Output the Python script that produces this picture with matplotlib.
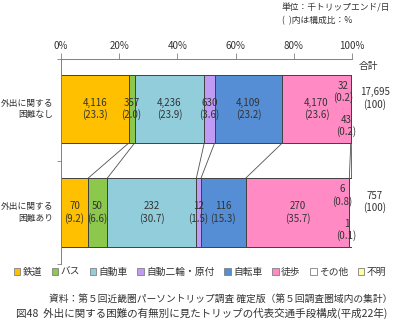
import matplotlib
matplotlib.use("Agg")
import matplotlib.pyplot as plt
from matplotlib.patches import Patch
import matplotlib.transforms as mtransforms
import numpy as np

plt.rcParams['font.family'] = ['Noto Sans CJK JP', 'DejaVu Sans']

categories = ["外出に関する\n困難なし", "外出に関する\n困難あり"]
modes = ["鉄道", "バス", "自動車", "自動二輪・原付", "自転車", "徒歩", "その他", "不明"]
vals_none = [4116, 357, 4236, 630, 4109, 4170, 32, 43]
pct_none = [23.3, 2.0, 23.9, 3.6, 23.2, 23.6, 0.2, 0.2]
vals_some = [70, 50, 232, 12, 116, 270, 6, 1]
pct_some = [9.2, 6.6, 30.7, 1.5, 15.3, 35.7, 0.8, 0.1]
totals = ["17,695", "757"]
xticks = [0, 20, 40, 60, 80, 100]
xticklabels = ["0%", "20%", "40%", "60%", "80%", "100%"]

colors = ["#FFC000", "#8CC84B", "#92CDDC", "#C09BF5", "#558ED5", "#FF8AC4", "#FFFFFF", "#FFFFA0"]
txtc = "#333333"

fig = plt.figure(figsize=(4.0, 3.25), dpi=100)
ax = fig.add_axes([0.1525, 0.1877, 0.7275, 0.6308])

bar_h = 0.66
rows = [(vals_none, pct_none), (vals_some, pct_some)]
cums = []
for r, (vals, pcts) in enumerate(rows):
    v = np.array(vals, dtype=float)
    share = v / v.sum() * 100
    left = np.concatenate([[0], np.cumsum(share)[:-1]])
    cums.append(np.cumsum(share))
    ax.barh(r, share, left=left, height=bar_h, color=colors,
            edgecolor="#404040", linewidth=0.7, zorder=2)
    for i in range(len(vals)):
        cx = left[i] + share[i] / 2
        dy = 0
        dx = 0
        if i == 6:
            dy = -0.165
            dx = -2.8
        elif i == 7:
            dy = 0.165
            dx = -1.8
        ax.text(cx + dx, r + dy, f"{vals[i]:,}\n({pcts[i]:.1f})", ha="center", va="center",
                fontsize=7, color=txtc, linespacing=1.15, zorder=4)

# connector lines
for i in range(len(modes)):
    ax.plot([cums[0][i], cums[1][i]], [0 + bar_h / 2, 1 - bar_h / 2],
            color="#505050", lw=0.6, zorder=1)

ax.set_xlim(0, 100)
ax.set_ylim(1.495, -0.48)
ax.xaxis.tick_top()
ax.set_xticks(xticks)
ax.set_xticklabels(xticklabels, fontsize=7, color=txtc)
ax.tick_params(axis="x", direction="out", length=4, width=0.6, color="#808080", pad=2)
ax.set_yticks([-0.48, 0.5, 1.495])
ax.set_yticklabels([])
ax.tick_params(axis="y", direction="out", length=3, width=0.6, color="#808080")
for s in ["right", "bottom"]:
    ax.spines[s].set_visible(False)
for s in ["top", "left"]:
    ax.spines[s].set_color("#808080")
    ax.spines[s].set_linewidth(0.7)

trans = mtransforms.blended_transform_factory(fig.transFigure, ax.transData)
for r, cat in enumerate(categories):
    ax.text(53 / 400, r, cat, transform=trans, ha="right", va="center",
            fontsize=6.3, color=txtc, linespacing=1.35)
    ax.text(375 / 400, r - 0.1, f"{totals[r]}\n(100)", transform=trans, ha="center",
            va="center", fontsize=7, color=txtc, linespacing=1.15)

fig.text(368 / 400, 1 - 66 / 325, "合計", ha="center", va="center", fontsize=7, color=txtc)
fig.text(282 / 400, 1 - 8 / 325, "単位：千トリップエンド/日", ha="left", va="center",
         fontsize=6.3, color=txtc)
fig.text(282 / 400, 1 - 21 / 325, "(  )内は構成比：%", ha="left", va="center",
         fontsize=6.3, color=txtc)

handles = [Patch(facecolor=c, edgecolor="#808080", linewidth=0.6) for c in colors]
leg = fig.legend(handles, modes, loc="center", bbox_to_anchor=(0.5, 1 - 272 / 325),
                 ncol=8, frameon=False, fontsize=7, handlelength=0.7, handleheight=0.7,
                 handletextpad=0.25, columnspacing=0.95, borderaxespad=0)
for t in leg.get_texts():
    t.set_color(txtc)

fig.text(392 / 400, 1 - 299 / 325,
         "資料：第５回近畿圏パーソントリップ調査 確定版（第５回調査圏域内の集計）",
         ha="right", va="center", fontsize=7, color=txtc)
fig.text(16 / 400, 1 - 313 / 325,
         "図48  外出に関する困難の有無別に見たトリップの代表交通手段構成(平成22年)",
         ha="left", va="center", fontsize=7.6, color=txtc)

fig.savefig("out.png", dpi=100)
